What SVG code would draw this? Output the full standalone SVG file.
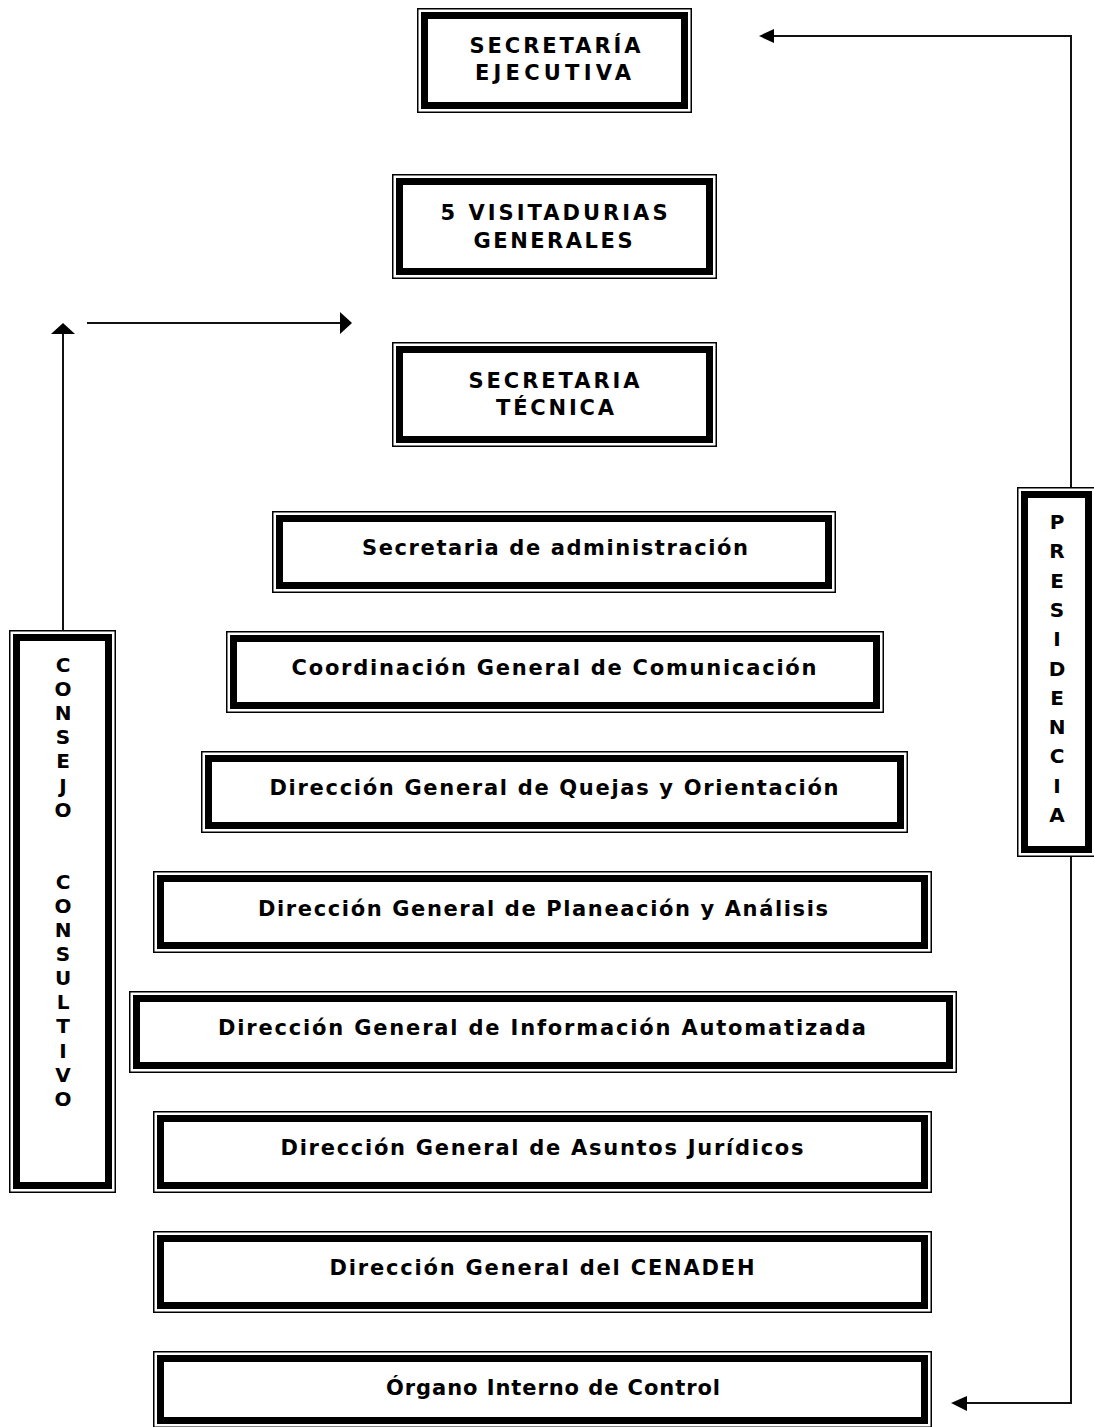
<svg xmlns="http://www.w3.org/2000/svg" width="1094" height="1427" viewBox="0 0 1094 1427">
<defs>
<style>
.thin{fill:none;stroke:#000;stroke-width:1.5}
.thick{fill:none;stroke:#000;stroke-width:7}
.lbl{font-family:"DejaVu Sans","Verdana",sans-serif;font-weight:bold;font-size:21px;fill:#000;text-anchor:middle}
.vl{font-family:"DejaVu Sans","Verdana",sans-serif;font-weight:bold;font-size:20px;fill:#000;text-anchor:middle}
.conn{fill:none;stroke:#111;stroke-width:2}
.head{fill:#000;stroke:none}
</style>
</defs>
<rect width="1094" height="1427" fill="#fff"/>
<g id="connectors">
<polyline class="conn" points="1071,487 1071,36 772,36"/>
<polygon class="head" points="759,36 774,29 774,43"/>
<polyline class="conn" points="1071,857 1071,1403 964,1403"/>
<polygon class="head" points="951,1403 967,1396 967,1411"/>
<line class="conn" x1="63" y1="630" x2="63" y2="333"/>
<polygon class="head" points="63,323 51,334 75,334"/>
<line class="conn" x1="87" y1="323" x2="342" y2="323"/>
<polygon class="head" points="352,323 340,312 340,334"/>
</g>
<g id="secretaria-ejecutiva">
<rect class="thin" x="417.75" y="8.75" width="273.5" height="103.5"/>
<rect class="thick" x="424.5" y="15.5" width="260" height="90"/>
<text class="lbl" x="555" y="52.5" textLength="171" lengthAdjust="spacing">SECRETARÍA</text>
<text class="lbl" x="553" y="79.5" textLength="156" lengthAdjust="spacing">EJECUTIVA</text>
</g>
<g id="visitadurias">
<rect class="thin" x="392.75" y="174.75" width="323.5" height="103.5"/>
<rect class="thick" x="399.5" y="181.5" width="310" height="90"/>
<text class="lbl" x="554" y="219.5" textLength="227" lengthAdjust="spacing">5 VISITADURIAS</text>
<text class="lbl" x="553" y="247.5" textLength="159" lengthAdjust="spacing">GENERALES</text>
</g>
<g id="secretaria-tecnica">
<rect class="thin" x="392.75" y="342.75" width="323.5" height="103.5"/>
<rect class="thick" x="399.5" y="349.5" width="310" height="90"/>
<text class="lbl" x="554" y="387.5" textLength="171" lengthAdjust="spacing">SECRETARIA</text>
<text class="lbl" x="555" y="414.5" textLength="118" lengthAdjust="spacing">TÉCNICA</text>
</g>
<g id="secretaria-administracion">
<rect class="thin" x="272.75" y="511.75" width="562.5" height="80.5"/>
<rect class="thick" x="279.5" y="518.5" width="549" height="67"/>
<text class="lbl" x="555" y="554.5" textLength="386" lengthAdjust="spacing">Secretaria de administración</text>
</g>
<g id="coordinacion-comunicacion">
<rect class="thin" x="226.75" y="631.75" width="656.5" height="80.5"/>
<rect class="thick" x="233.5" y="638.5" width="643" height="67"/>
<text class="lbl" x="554" y="674.5" textLength="525" lengthAdjust="spacing">Coordinación General de Comunicación</text>
</g>
<g id="quejas-orientacion">
<rect class="thin" x="201.75" y="751.75" width="705.5" height="80.5"/>
<rect class="thick" x="208.5" y="758.5" width="692" height="67"/>
<text class="lbl" x="554" y="794.5" textLength="569" lengthAdjust="spacing">Dirección General de Quejas y Orientación</text>
</g>
<g id="planeacion-analisis">
<rect class="thin" x="153.75" y="871.75" width="777.5" height="80.5"/>
<rect class="thick" x="160.5" y="878.5" width="764" height="67"/>
<text class="lbl" x="543" y="915.5" textLength="570" lengthAdjust="spacing">Dirección General de Planeación y Análisis</text>
</g>
<g id="informacion-automatizada">
<rect class="thin" x="129.75" y="991.75" width="826.5" height="80.5"/>
<rect class="thick" x="136.5" y="998.5" width="813" height="67"/>
<text class="lbl" x="542" y="1034.5" textLength="648" lengthAdjust="spacing">Dirección General de Información Automatizada</text>
</g>
<g id="asuntos-juridicos">
<rect class="thin" x="153.75" y="1111.75" width="777.5" height="80.5"/>
<rect class="thick" x="160.5" y="1118.5" width="764" height="67"/>
<text class="lbl" x="542" y="1154.5" textLength="523" lengthAdjust="spacing">Dirección General de Asuntos Jurídicos</text>
</g>
<g id="cenadeh">
<rect class="thin" x="153.75" y="1231.75" width="777.5" height="80.5"/>
<rect class="thick" x="160.5" y="1238.5" width="764" height="67"/>
<text class="lbl" x="542" y="1274.5" textLength="425" lengthAdjust="spacing">Dirección General del CENADEH</text>
</g>
<g id="organo-interno">
<rect class="thin" x="153.75" y="1351.75" width="777.5" height="75.5"/>
<rect class="thick" x="160.5" y="1358.5" width="764" height="62"/>
<text class="lbl" x="553" y="1394.5" textLength="334" lengthAdjust="spacing">Órgano Interno de Control</text>
</g>
<g id="consejo-consultivo">
<rect class="thin" x="9.75" y="630.75" width="105.5" height="561.5"/>
<rect class="thick" x="16.5" y="637.5" width="92" height="548"/>
<text class="vl" x="63" y="672">C</text>
<text class="vl" x="63" y="696">O</text>
<text class="vl" x="63" y="720">N</text>
<text class="vl" x="63" y="744">S</text>
<text class="vl" x="63" y="768">E</text>
<text class="vl" x="63" y="793">J</text>
<text class="vl" x="63" y="817">O</text>
<text class="vl" x="63" y="889">C</text>
<text class="vl" x="63" y="913">O</text>
<text class="vl" x="63" y="937">N</text>
<text class="vl" x="63" y="961">S</text>
<text class="vl" x="63" y="985">U</text>
<text class="vl" x="63" y="1009">L</text>
<text class="vl" x="63" y="1033">T</text>
<text class="vl" x="63" y="1058">I</text>
<text class="vl" x="63" y="1082">V</text>
<text class="vl" x="63" y="1106">O</text>
</g>
<g id="presidencia">
<rect class="thin" x="1017.75" y="487.75" width="77.5" height="368.5"/>
<rect class="thick" x="1024.5" y="494.5" width="64" height="355"/>
<text class="vl" x="1057" y="529">P</text>
<text class="vl" x="1057" y="558">R</text>
<text class="vl" x="1057" y="588">E</text>
<text class="vl" x="1057" y="617">S</text>
<text class="vl" x="1057" y="646">I</text>
<text class="vl" x="1057" y="676">D</text>
<text class="vl" x="1057" y="705">E</text>
<text class="vl" x="1057" y="734">N</text>
<text class="vl" x="1057" y="763">C</text>
<text class="vl" x="1057" y="793">I</text>
<text class="vl" x="1057" y="822">A</text>
</g>
</svg>
